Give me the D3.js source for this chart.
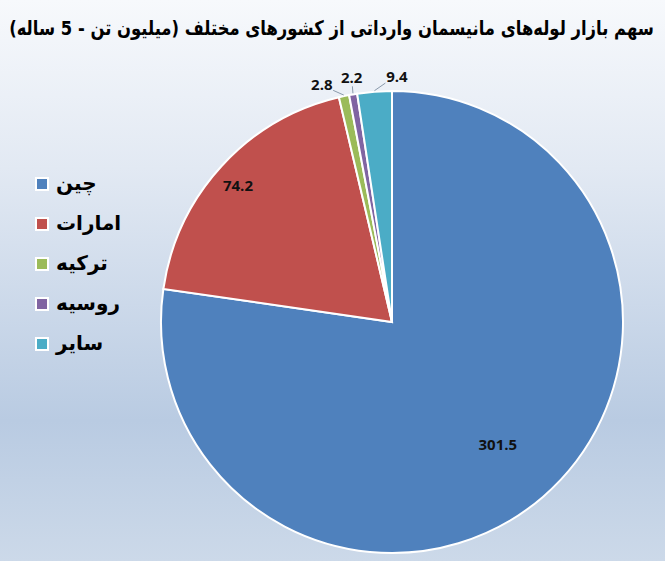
<!DOCTYPE html>
<html>
<head>
<meta charset="utf-8">
<script src="https://cdn.jsdelivr.net/npm/d3@7"></script>
<style>
  body { margin: 0; }
  svg { display: block; }
</style>
</head>
<body>
<svg id="chart"></svg>
<script>
// chart data
const titleText = "سهم بازار لوله‌های مانیسمان وارداتی از کشورهای مختلف (میلیون تن - 5 ساله)";
const countries = ["چین", "امارات", "ترکیه", "روسیه", "سایر"];
const values = [301.5, 74.2, 2.8, 2.2, 9.4];
const colors = ["#4f81bd", "#c0504d", "#9bbb59", "#8064a2", "#4bacc6"];

const W = 665, H = 561;
const cx = 392, cy = 322, R = 231;

// where each value label sits: [radius factor, angle nudge in degrees, outside?]
const labelPlace = [[0.70, 0, false], [0.89, -1, false], [1.07, -4.5, true], [1.07, 0.3, true], [1.06, 5.5, true]];

const svg = d3.select("#chart")
    .attr("width", W)
    .attr("height", H);

// background gradient
const defs = svg.append("defs");
const grad = defs.append("linearGradient")
    .attr("id", "bg")
    .attr("x1", 0).attr("y1", 0).attr("x2", 0).attr("y2", 1);
grad.append("stop").attr("offset", "0%").attr("stop-color", "#f7f9fc");
grad.append("stop").attr("offset", "30%").attr("stop-color", "#e2e9f3");
grad.append("stop").attr("offset", "75%").attr("stop-color", "#b9cbe2");
grad.append("stop").attr("offset", "100%").attr("stop-color", "#ccd9e9");

svg.append("rect")
    .attr("width", W)
    .attr("height", H)
    .attr("fill", "url(#bg)");

// title - squeeze horizontally to fit the reference width
const title = svg.append("text")
    .attr("direction", "rtl")
    .attr("text-anchor", "middle")
    .style("font-family", "DejaVu Sans, sans-serif")
    .style("font-weight", "bold")
    .style("font-size", "20px")
    .style("fill", "#000")
    .text(titleText);
const tw = title.node().getComputedTextLength();
const sx = Math.min(1, 645 / tw);
title.attr("transform", `translate(${W / 2 - 1}, 35) scale(${sx}, 1)`);

// pie
const pie = d3.pie().sort(null).value(d => d);
const arcs = pie(values);
const arc = d3.arc().innerRadius(0).outerRadius(R);

const g = svg.append("g")
    .attr("transform", `translate(${cx},${cy})`);

g.selectAll(".slice")
    .data(arcs)
    .enter()
    .append("path")
    .attr("class", "slice")
    .attr("d", arc)
    .attr("fill", (d, i) => colors[i])
    .attr("stroke", "#fff")
    .attr("stroke-width", 2);

// polar helper (angle measured clockwise from 12 o'clock)
const polar = (a, r) => [Math.sin(a) * r, -Math.cos(a) * r];
const mid = d => (d.startAngle + d.endAngle) / 2;

// leader lines for the thin slices
g.selectAll(".leader")
    .data(arcs.filter((d, i) => labelPlace[i][2]))
    .enter()
    .append("polyline")
    .attr("class", "leader")
    .attr("fill", "none")
    .attr("stroke", "#8a9aab")
    .attr("stroke-width", 1)
    .attr("points", d => {
        const i = d.index;
        const a1 = mid(d);
        const a2 = a1 + labelPlace[i][1] * Math.PI / 360;
        const p1 = polar(a1, R + 1);
        const p2 = polar(a2, R + 8);
        return [p1, p2].map(p => p.join(",")).join(" ");
    });

// value labels
g.selectAll(".value-label")
    .data(arcs)
    .enter()
    .append("text")
    .attr("class", "value-label")
    .attr("transform", d => {
        const i = d.index;
        const a = mid(d) + labelPlace[i][1] * Math.PI / 180;
        const p = polar(a, R * labelPlace[i][0]);
        return `translate(${p[0]},${p[1]})`;
    })
    .attr("text-anchor", "middle")
    .attr("dy", "0.35em")
    .style("font-family", "Open Sans, sans-serif")
    .style("font-weight", "bold")
    .style("font-size", "15px")
    .style("fill", "#111")
    .text(d => d.data);

// legend
const legend = svg.append("g")
    .attr("transform", "translate(36, 184)");

const item = legend.selectAll(".legend-item")
    .data(countries)
    .enter()
    .append("g")
    .attr("class", "legend-item")
    .attr("transform", (d, i) => `translate(0, ${i * 40})`);

item.append("rect")
    .attr("x", 0)
    .attr("y", -6)
    .attr("width", 12)
    .attr("height", 12)
    .attr("fill", (d, i) => colors[i])
    .attr("stroke", "#fff")
    .attr("stroke-width", 2);

item.append("text")
    .attr("x", 20)
    .attr("y", 0)
    .attr("dy", "0.3em")
    .style("font-family", "DejaVu Sans, sans-serif")
    .style("font-weight", "bold")
    .style("font-size", "20px")
    .style("fill", "#000")
    .text(d => d);
</script>
</body>
</html>
